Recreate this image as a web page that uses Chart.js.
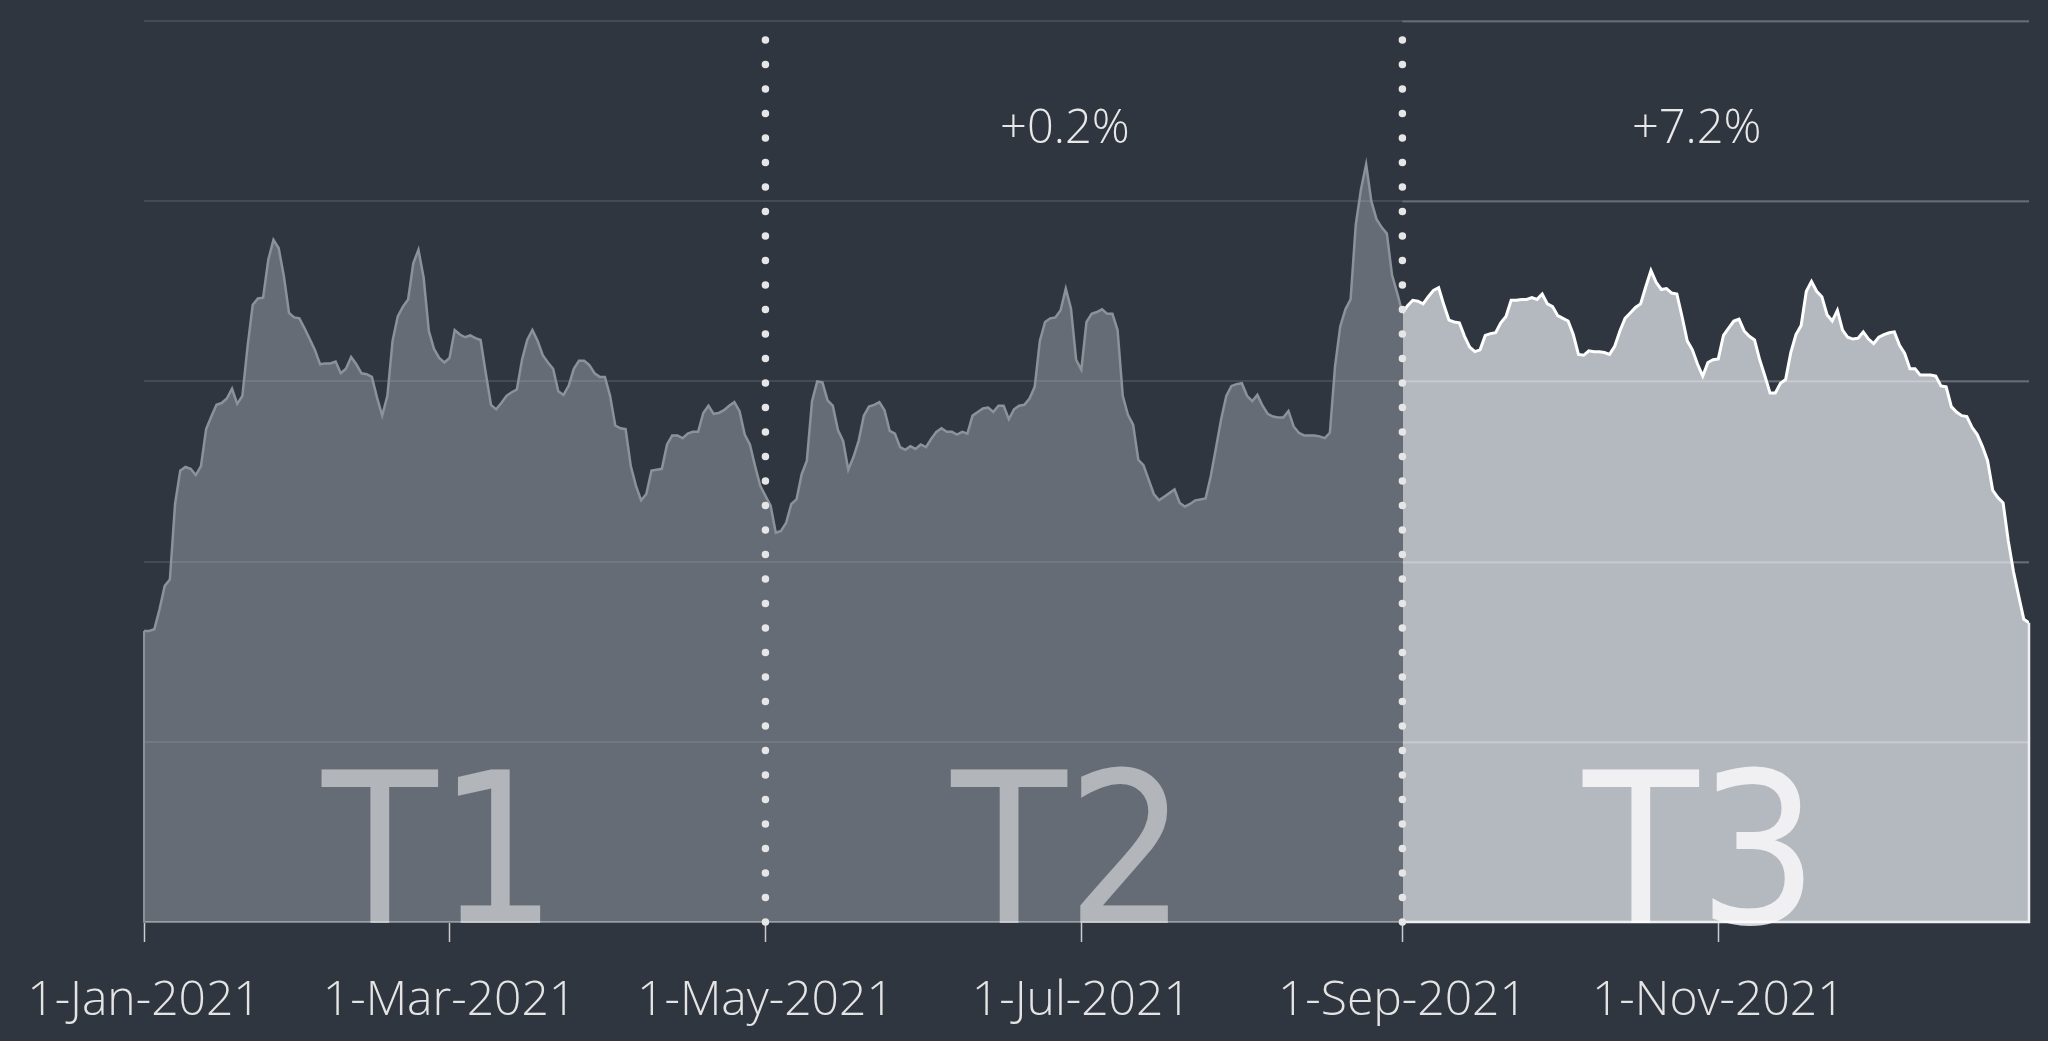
<!DOCTYPE html>
<html>
<head>
<meta charset="utf-8">
<script src="https://cdn.jsdelivr.net/npm/chart.js@4.4.0/dist/chart.umd.min.js"></script>
<style>
  html, body { margin: 0; padding: 0; background: #303640; }
  canvas { display: block; }
</style>
</head>
<body>
<canvas id="myChart" width="2048" height="1041"></canvas>
<script>
// x ticks: day offset from 1-Jan-2021
const tickDays = [0, 59, 120, 181, 243, 304];
const tickLabels = ['1-Jan-2021', '1-Mar-2021', '1-May-2021', '1-Jul-2021', '1-Sep-2021', '1-Nov-2021'];

// period starts (day offset) and names, last day of the series
const periodStarts = [0, 120, 243];
const periodNames = ['T1', 'T2', 'T3'];
const lastDay = 364;

// change shown above T2 and T3
const periodChanges = ['', '+0.2%', '+7.2%'];

// daily values, 1-Jan-2021 .. 31-Dec-2021 (y axis unlabelled, 0-100)
const values = [
  32.3, 32.3, 32.5, 34.7, 37.3, 38.0, 46.4, 50.1, 50.5, 50.3,
  49.6, 50.6, 54.7, 56.1, 57.4, 57.6, 58.1, 59.2, 57.5, 58.4,
  63.9, 68.5, 69.2, 69.3, 73.5, 75.7, 74.8, 71.7, 67.6, 67.1,
  67.0, 65.9, 64.7, 63.5, 61.9, 62.0, 62.0, 62.2, 60.9, 61.4,
  62.7, 61.9, 60.9, 60.8, 60.5, 58.2, 56.2, 58.4, 64.5, 67.2,
  68.3, 69.1, 73.1, 74.6, 71.5, 65.6, 63.6, 62.6, 62.1, 62.6,
  65.7, 65.2, 64.9, 65.1, 64.8, 64.6, 60.9, 57.4, 56.9, 57.6,
  58.4, 58.8, 59.1, 62.4, 64.6, 65.7, 64.5, 62.9, 62.1, 61.4,
  58.9, 58.5, 59.5, 61.4, 62.3, 62.3, 61.8, 60.9, 60.5, 60.5,
  58.4, 55.1, 54.8, 54.7, 50.6, 48.4, 46.8, 47.5, 50.1, 50.2,
  50.3, 53.0, 54.0, 54.0, 53.7, 54.2, 54.4, 54.4, 56.5, 57.3,
  56.4, 56.5, 56.8, 57.3, 57.7, 56.7, 54.1, 53.0, 50.6, 48.4,
  47.3, 46.2, 43.2, 43.4, 44.3, 46.4, 46.9, 49.7, 51.2, 57.8,
  60.0, 59.9, 57.9, 57.3, 54.6, 53.4, 50.2, 51.6, 53.4, 56.2,
  57.2, 57.4, 57.7, 56.8, 54.5, 54.2, 52.7, 52.4, 52.8, 52.5,
  53.0, 52.7, 53.6, 54.4, 54.8, 54.4, 54.4, 54.1, 54.4, 54.2,
  56.2, 56.6, 57.0, 57.1, 56.6, 57.3, 57.3, 55.8, 56.9, 57.3,
  57.4, 58.1, 59.4, 64.5, 66.6, 67.0, 67.1, 67.9, 70.3, 68.1,
  62.4, 61.3, 66.6, 67.5, 67.7, 68.0, 67.5, 67.5, 65.7, 58.4,
  56.3, 55.2, 51.3, 50.7, 49.1, 47.5, 46.8, 47.2, 47.6, 48.0,
  46.5, 46.1, 46.4, 46.8, 46.9, 47.0, 49.5, 52.6, 55.8, 58.4,
  59.5, 59.7, 59.8, 58.4, 57.8, 58.5, 57.3, 56.4, 56.1, 56.0,
  56.0, 56.7, 55.0, 54.3, 54.0, 54.0, 54.0, 53.9, 53.7, 54.3,
  61.7, 66.1, 68.0, 69.1, 77.4, 81.3, 84.1, 80.0, 78.0, 77.1,
  76.4, 71.8, 69.8, 67.6, 68.4, 69.0, 68.9, 68.6, 69.4, 70.1,
  70.4, 68.5, 66.8, 66.6, 66.5, 65.0, 63.8, 63.3, 63.5, 65.1,
  65.3, 65.4, 66.5, 67.2, 69.0, 69.0, 69.1, 69.1, 69.3, 69.1,
  69.7, 68.6, 68.3, 67.3, 67.0, 66.7, 65.2, 63.0, 62.9, 63.4,
  63.3, 63.3, 63.2, 63.0, 63.9, 65.6, 67.0, 67.6, 68.2, 68.6,
  70.5, 72.3, 71.0, 70.2, 70.3, 69.8, 69.7, 67.2, 64.5, 63.5,
  61.9, 60.6, 62.1, 62.4, 62.5, 65.1, 65.9, 66.7, 66.9, 65.6,
  65.0, 64.6, 62.4, 60.6, 58.7, 58.7, 59.8, 60.2, 63.2, 65.2,
  66.2, 70.0, 71.1, 70.0, 69.4, 67.4, 66.7, 67.9, 65.7, 64.9,
  64.7, 64.8, 65.5, 64.7, 64.2, 64.9, 65.2, 65.4, 65.5, 64.0,
  63.1, 61.4, 61.4, 60.7, 60.7, 60.7, 60.6, 59.5, 59.4, 57.2,
  56.6, 56.2, 56.1, 54.9, 54.1, 52.8, 51.2, 47.9, 47.1, 46.5,
  42.3, 38.9, 36.2, 33.6, 33.2
];

const points = values.map((v, i) => ({ x: i, y: v }));
const splitDay = periodStarts[2];

const lineGrey = '#8c9299';

// extra drawing: period highlights, dotted separators, big labels
const overlay = {
  id: 'overlay',
  afterDatasetsDraw(chart) {
    const { ctx, chartArea: a, scales: { x, y } } = chart;
    const xs = x.getPixelForValue(splitDay);
    ctx.save();

    // brighter gridlines over the last period
    ctx.strokeStyle = 'rgba(255,255,255,0.2)';
    ctx.lineWidth = 2;
    y.ticks.forEach(t => {
      if (t.value === 0) return;
      const py = Math.round(y.getPixelForValue(t.value)) + 0.5;
      ctx.beginPath(); ctx.moveTo(xs, py); ctx.lineTo(a.right, py); ctx.stroke();
    });

    // area edges
    ctx.strokeStyle = lineGrey;
    ctx.lineWidth = 2;
    ctx.beginPath();
    ctx.moveTo(a.left, y.getPixelForValue(values[0]));
    ctx.lineTo(a.left, a.bottom);
    ctx.stroke();

    ctx.strokeStyle = '#eef0f2';
    ctx.lineWidth = 2.5;
    ctx.beginPath();
    ctx.moveTo(xs, a.bottom);
    ctx.lineTo(a.right, a.bottom);
    ctx.lineTo(a.right, y.getPixelForValue(values[lastDay]));
    ctx.stroke();

    // dotted separators
    ctx.strokeStyle = '#e6e6e6';
    ctx.lineWidth = 7.5;
    ctx.lineCap = 'round';
    ctx.setLineDash([0, 24.5]);
    periodStarts.slice(1).forEach(d => {
      const px = x.getPixelForValue(d);
      ctx.beginPath(); ctx.moveTo(px, a.bottom); ctx.lineTo(px, a.top - 2); ctx.stroke();
    });
    ctx.setLineDash([]);

    // period names and changes
    const bounds = periodStarts.concat([lastDay]);
    ctx.textAlign = 'center';
    ctx.textBaseline = 'alphabetic';
    periodNames.forEach((name, i) => {
      const cx = (x.getPixelForValue(bounds[i]) + x.getPixelForValue(bounds[i + 1])) / 2 - 15;
      ctx.fillStyle = i === 2 ? 'rgba(255,255,255,0.8)' : 'rgba(255,255,255,0.5)';
      ctx.font = "210px 'DejaVu Sans Condensed', 'DejaVu Sans', sans-serif";
      ctx.fillText(name, cx, a.bottom + 1);
      if (periodChanges[i]) {
        ctx.fillStyle = '#e8e8e8';
        ctx.font = "300 47px 'Open Sans', sans-serif";
        ctx.fillText(periodChanges[i], cx - 4, a.top + 122);
      }
    });
    ctx.restore();
  }
};

new Chart(document.getElementById('myChart'), {
  type: 'line',
  data: {
    datasets: [
      {
        data: points.filter(p => p.x >= splitDay),
        borderColor: '#ffffff',
        borderWidth: 3,
        backgroundColor: 'rgba(225,229,235,0.745)',
        fill: 'origin',
        pointRadius: 0,
        tension: 0
      },
      {
        data: points.filter(p => p.x <= splitDay),
        borderColor: lineGrey,
        borderWidth: 2.5,
        backgroundColor: 'rgba(220,228,236,0.31)',
        fill: 'origin',
        pointRadius: 0,
        tension: 0
      }
    ]
  },
  options: {
    responsive: false,
    animation: false,
    layout: { padding: { left: 144, right: 19, top: 21, bottom: 0 } },
    plugins: { legend: { display: false }, tooltip: { enabled: false } },
    scales: {
      x: {
        type: 'linear',
        min: 0,
        max: lastDay,
        afterBuildTicks: scale => { scale.ticks = tickDays.map(v => ({ value: v })); },
        afterFit: scale => {
          scale.height = 119;
          scale.paddingLeft = 0;
          scale.paddingRight = 0;
        },
        ticks: {
          autoSkip: false,
          maxRotation: 0,
          padding: 31,
          color: '#e4e4e4',
          font: { family: 'Open Sans', size: 48, weight: 300 },
          callback: v => tickLabels[tickDays.indexOf(v)]
        },
        grid: {
          drawOnChartArea: false,
          drawTicks: true,
          tickLength: 20,
          tickColor: 'rgba(255,255,255,0.75)',
          tickWidth: 1.5
        },
        border: { color: 'rgba(255,255,255,0.3)', width: 2 }
      },
      y: {
        min: 0,
        max: 100,
        ticks: { display: false, stepSize: 20 },
        grid: { color: 'rgba(255,255,255,0.1)', lineWidth: 2, drawTicks: false },
        border: { display: false }
      }
    }
  },
  plugins: [overlay]
});
</script>
</body>
</html>
